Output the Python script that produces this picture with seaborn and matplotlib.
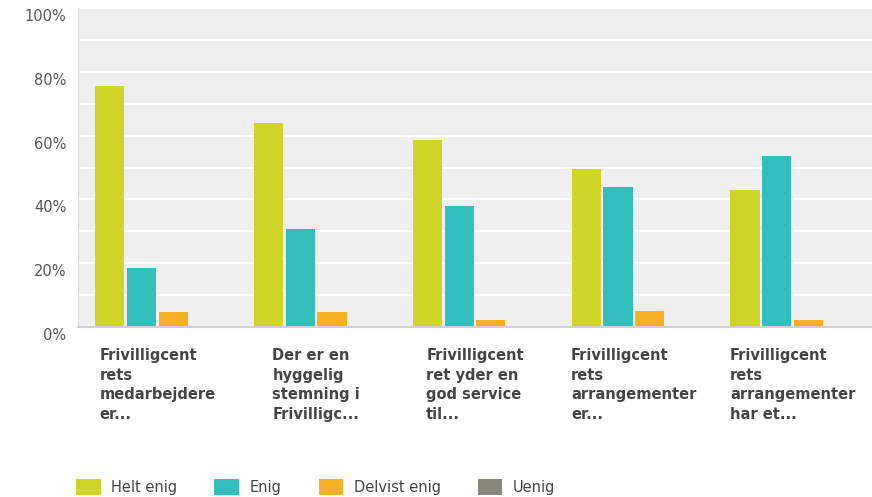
import matplotlib
matplotlib.use("Agg")
import matplotlib.pyplot as plt
import matplotlib.transforms as mtransforms
from matplotlib.patches import Patch
import seaborn as sns
import pandas as pd

questions = [
    "Frivilligcent\nrets\nmedarbejdere\ner...",
    "Der er en\nhyggelig\nstemning i\nFrivilligc...",
    "Frivilligcent\nret yder en\ngod service\ntil...",
    "Frivilligcent\nrets\narrangementer\ner...",
    "Frivilligcent\nrets\narrangementer\nhar et...",
]
answers = ["Helt enig", "Enig", "Delvist enig", "Uenig"]
helt_enig = [75.5, 63.9, 58.5, 49.4, 43.0]
enig = [18.5, 30.6, 38.0, 44.0, 53.6]
delvist_enig = [4.6, 4.7, 2.2, 5.0, 2.1]
uenig = [0, 0, 0, 0, 0]
colors = ["#cfd427", "#33bdbd", "#f6ae22", "#86877a"]

rows = []
for series, name in zip([helt_enig, enig, delvist_enig, uenig], answers):
    for q, v in zip(questions, series):
        rows.append({"question": q, "answer": name, "pct": v})
df = pd.DataFrame(rows)

sns.set_style("white")
fig = plt.figure(figsize=(8.72, 4.97), dpi=100)
ax = fig.add_axes([78 / 872, 1 - 327 / 497, 1 - 78 / 872, 319 / 497])
ax.set_facecolor("#efefef")

sns.barplot(data=df, x="question", y="pct", hue="answer", hue_order=answers,
            palette=colors, width=0.8, gap=0.08, ax=ax, legend=False,
            saturation=1, linewidth=0)

ax.set_ylim(0, 100)
ax.set_xlim(-0.5, 4.5)
ax.set_yticks(range(0, 101, 20))
ax.set_yticks(range(10, 100, 20), minor=True)
ax.set_yticklabels([f"{v}%" for v in range(0, 101, 20)], fontsize=10.5, color="#555555")
ax.grid(axis="y", which="both", color="white", linewidth=1.5)
ax.set_axisbelow(True)
ax.tick_params(axis="y", which="both", length=0, pad=8.5)
ax.tick_params(axis="x", length=0, pad=15)
offset = mtransforms.ScaledTranslation(0, -7 / 100, fig.dpi_scale_trans)
for lbl in ax.get_yticklabels():
    lbl.set_transform(lbl.get_transform() + offset)

ax.set_xticks(range(len(questions)))
ax.set_xticklabels(questions, fontsize=10.5, fontweight="bold", color="#444444",
                   va="top", ha="center", multialignment="left", linespacing=1.4)
ax.set_xlabel("")
ax.set_ylabel("")

for side in ["top", "right"]:
    ax.spines[side].set_visible(False)
ax.spines["left"].set_color("#dddddd")
ax.spines["bottom"].set_color("#d0d0d0")
ax.spines["bottom"].set_linewidth(1.5)

handles = [Patch(facecolor=c, edgecolor="none") for c in colors]
fig.legend(handles, answers, loc="center left", bbox_to_anchor=(63 / 872, 1 - 487 / 497),
           ncol=4, frameon=False, fontsize=10.5, handlelength=1.7, handleheight=1.3,
           columnspacing=2.55, handletextpad=0.7, labelcolor="#444444")

fig.savefig("out.png", dpi=100)
